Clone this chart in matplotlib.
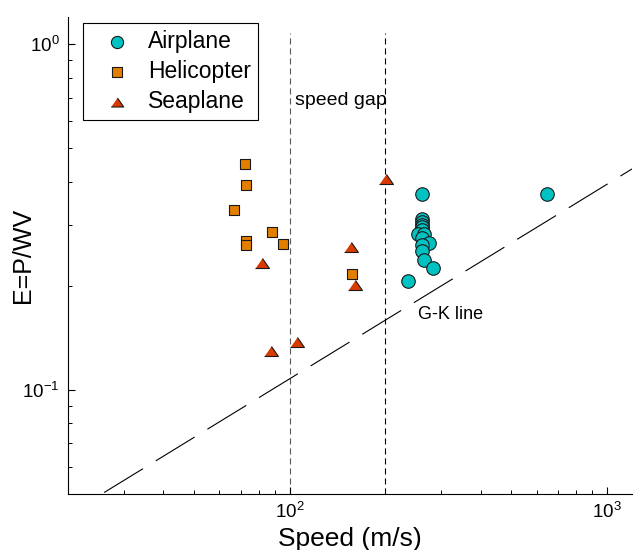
import matplotlib.pyplot as plt
from matplotlib.ticker import NullFormatter

plt.rcParams['font.family'] = ['Liberation Sans', 'DejaVu Sans']
plt.rcParams['mathtext.default'] = 'regular'

# data (speed in m/s, E = P/WV)
airplane_speed = [262, 646, 262, 262, 262, 262, 262, 254, 266, 262, 274, 262, 261, 266, 283, 236]
airplane_e = [0.370, 0.370, 0.313, 0.306, 0.301, 0.296, 0.290, 0.282, 0.283, 0.275, 0.266, 0.262,
              0.252, 0.238, 0.226, 0.207]

heli_speed = [72.2, 72.9, 66.8, 88.2, 72.9, 72.9, 95.3, 157]
heli_e = [0.452, 0.392, 0.331, 0.287, 0.269, 0.262, 0.264, 0.216]

sea_speed = [200.5, 155.5, 81.5, 161, 105.7, 87.2]
sea_e = [0.407, 0.260, 0.233, 0.201, 0.138, 0.130]

gap_speeds = [100, 200]
gk_speed = [26, 1200]
gk_e = [0.0505, 0.436]

fig = plt.figure(figsize=(6.34, 5.5), dpi=100)
ax = fig.add_axes([68 / 634, 1 - 494 / 550, (632 - 68) / 634, (494 - 17) / 550])
ax.set_xscale('log')
ax.set_yscale('log')
ax.set_xlim(20, 1200)
ax.set_ylim(0.05, 1.2)

for v, c in zip(gap_speeds, ['0.35', 'k']):
    ax.vlines(v, 0.05, 1.08, colors=c, linestyles=(0, (5.5, 3.5)), linewidth=0.8, zorder=1)
ax.plot(gk_speed, gk_e, color='k', linewidth=0.8, dashes=(41, 13.5), zorder=1)

tri = [(-1, -0.72), (1, -0.72), (0, 0.72)]
ax.scatter(airplane_speed, airplane_e, s=95, marker='o', color='#00C2C2', edgecolors='#1a1a1a',
           linewidths=0.8, label='Airplane', zorder=3)
ax.scatter(heli_speed, heli_e, s=52, marker='s', color='#E27F00', edgecolors='#1a1a1a',
           linewidths=0.8, label='Helicopter', zorder=3)
ax.scatter(sea_speed, sea_e, s=100, marker=tri, color='#D93A00', edgecolors='#1a1a1a',
           linewidths=0.8, label='Seaplane', zorder=3)

ax.text(104, 0.69, 'speed gap', fontsize=14, va='center', ha='left')
ax.text(254, 0.165, 'G-K line', fontsize=13, va='center', ha='left')

for side in ['top', 'right']:
    ax.spines[side].set_visible(False)
for side in ['left', 'bottom']:
    ax.spines[side].set_linewidth(0.8)

ax.xaxis.set_minor_formatter(NullFormatter())
ax.yaxis.set_minor_formatter(NullFormatter())
ax.tick_params(which='major', direction='in', length=5, width=0.8, labelsize=13.5, pad=6)
ax.tick_params(which='minor', direction='in', length=3, width=0.7)

ax.set_xlabel('Speed (m/s)', fontsize=19, labelpad=3)
ax.set_ylabel('E=P/WV', fontsize=18)
ax.yaxis.set_label_coords(-0.058, 0.5)

leg = ax.legend(loc='upper left', bbox_to_anchor=(0.0266, 0.987), borderaxespad=0, fontsize=16.5,
                frameon=True, fancybox=False, edgecolor='k', framealpha=1, borderpad=0.3,
                labelspacing=0.3, handlelength=2.4, handletextpad=0.15, markerscale=0.9)
leg.get_frame().set_linewidth(0.8)

fig.savefig('out.png', dpi=100)
